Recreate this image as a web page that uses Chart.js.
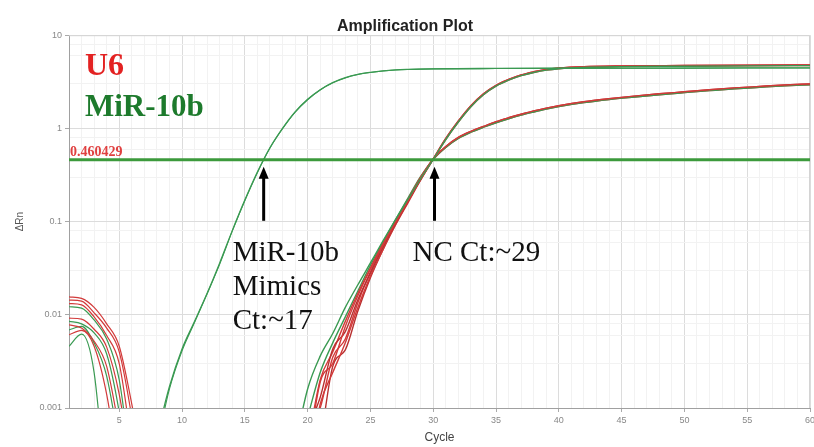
<!DOCTYPE html>
<html>
<head>
<meta charset="utf-8">
<title>Amplification Plot</title>
<script src="https://cdn.jsdelivr.net/npm/chart.js@4.4.0/dist/chart.umd.min.js"></script>
<style>
  html, body { margin: 0; padding: 0; background: #fff; }
  #wrap { width: 814px; height: 447px; }
</style>
</head>
<body>
<div id="wrap"><canvas id="ampChart" width="814" height="447"></canvas></div>
<script>
// threshold and Ct marks
const thresholdValue = 0.460429;
const mimicsCt = 16.5;
const ncCt = 30.1;

// baseline noise at the start of the run, [cycle, dRn]
const early1 = [[1, 0.0156], [2, 0.0150], [3, 0.0120], [4, 0.0080], [5, 0.0046], [6, 0.0011], [7, 0.0002]];
const early2 = [[1, 0.0144], [2, 0.0140], [3, 0.0105], [4, 0.0072], [5, 0.0040], [6, 0.0008], [7, 0.0001]];
const early3 = [[1, 0.0132], [2, 0.0128], [3, 0.0095], [4, 0.0060], [5, 0.0030], [6, 0.0004]];
const early4 = [[1, 0.0122], [2, 0.0118], [3, 0.0088], [4, 0.0055], [5, 0.0020], [6, 0.0002]];
const early5 = [[1, 0.0092], [2, 0.0090], [3, 0.0070], [4, 0.0045], [5, 0.0014], [6, 0.0002]];
const early6 = [[1, 0.0085], [2, 0.0080], [3, 0.0064], [4, 0.0038], [5, 0.0009], [6, 0.0001]];
const early7 = [[1, 0.0078], [2, 0.0072], [3, 0.0052], [4, 0.0028], [5, 0.0006]];
const early8 = [[1, 0.0069], [2, 0.0075], [3, 0.0050], [4, 0.0022], [5, 0.0004]];
const early9 = [[1, 0.0061], [2, 0.0068], [3, 0.0046], [4, 0.0014], [5, 0.0002]];
const early10 = [[1, 0.0046], [2, 0.0062], [3, 0.0024], [4, 0.0001]];

// miR-10b mimics wells
const mimicsA = [[8, 0.0005], [9, 0.0017], [10, 0.0043], [11, 0.0085], [12, 0.017], [13, 0.036], [14, 0.08],
  [15, 0.17], [16, 0.34], [17, 0.62], [18, 1.0], [19, 1.5], [20, 2.05], [21, 2.6], [22, 3.1], [23, 3.5],
  [24, 3.8], [25, 4.0], [26, 4.15], [27, 4.25], [28, 4.3], [30, 4.36], [35, 4.4], [40, 4.42], [50, 4.44], [60, 4.46]];
const mimicsB = [[8, 0.0004], [9, 0.0016], [10, 0.0041], [11, 0.0083], [12, 0.0168], [13, 0.035], [14, 0.079],
  [15, 0.168], [16, 0.335], [17, 0.615], [18, 0.99], [19, 1.49], [20, 2.03], [21, 2.58], [22, 3.08], [23, 3.48],
  [24, 3.78], [25, 3.98], [26, 4.13], [27, 4.23], [28, 4.29], [30, 4.35], [35, 4.39], [40, 4.41], [50, 4.43], [60, 4.45]];

// NC wells, exponential rise below threshold
const ncRise1 = [[19, 0.0004], [20, 0.0016], [21, 0.0036], [22, 0.0063], [23, 0.012], [24, 0.021], [25, 0.036], [26, 0.062], [27, 0.105], [28, 0.175], [29, 0.29]];
const ncRise2 = [[20, 0.0003], [21, 0.0019], [22, 0.0030], [23, 0.0075], [24, 0.016], [25, 0.031], [26, 0.056], [27, 0.098], [28, 0.168], [29, 0.285]];
const ncRise3 = [[20, 0.0006], [21, 0.0013], [22, 0.0043], [23, 0.0066], [24, 0.0145], [25, 0.028], [26, 0.053], [27, 0.095], [28, 0.165], [29, 0.28]];
const ncRise4 = [[20, 0.0002], [21, 0.0011], [22, 0.0024], [23, 0.0050], [24, 0.012], [25, 0.026], [26, 0.05], [27, 0.092], [28, 0.16], [29, 0.28]];
const ncRise5 = [[20, 0.0004], [21, 0.0020], [22, 0.0040], [23, 0.0085], [24, 0.017], [25, 0.032], [26, 0.058], [27, 0.10], [28, 0.175], [29, 0.30]];
const ncRise6 = [[20, 0.0008], [21, 0.0024], [22, 0.0050], [23, 0.0095], [24, 0.018], [25, 0.034], [26, 0.06], [27, 0.105], [28, 0.18], [29, 0.305]];
const ncRise7 = [[21, 0.0004], [22, 0.0028], [23, 0.0042], [24, 0.011], [25, 0.025], [26, 0.05], [27, 0.093], [28, 0.165], [29, 0.29]];
const ncRise8 = [[20, 0.0005], [21, 0.0010], [22, 0.0035], [23, 0.0055], [24, 0.0135], [25, 0.029], [26, 0.055], [27, 0.098], [28, 0.17], [29, 0.295]];

// NC plateaus above threshold
const ncUpperTail = [[30, 0.47], [31, 0.78], [32, 1.2], [33, 1.75], [34, 2.35], [35, 2.9], [36, 3.35], [37, 3.75],
  [38, 4.05], [39, 4.3], [40, 4.45], [42, 4.6], [45, 4.68], [50, 4.73], [55, 4.77], [60, 4.8]];
const ncUpperTailB = [[30, 0.465], [31, 0.76], [32, 1.17], [33, 1.71], [34, 2.3], [35, 2.84], [36, 3.29], [37, 3.68],
  [38, 3.98], [39, 4.22], [40, 4.37], [42, 4.52], [45, 4.6], [50, 4.65], [55, 4.69], [60, 4.72]];
const ncLowerTail = [[30, 0.47], [31, 0.64], [32, 0.8], [33, 0.93], [34, 1.05], [35, 1.18], [36, 1.3], [37, 1.42],
  [38, 1.54], [39, 1.65], [40, 1.75], [42, 1.93], [44, 2.08], [46, 2.22], [48, 2.35], [50, 2.47], [52, 2.6],
  [54, 2.72], [56, 2.82], [58, 2.92], [60, 3.0]];
const ncLowerTailB = [[30, 0.465], [31, 0.625], [32, 0.78], [33, 0.91], [34, 1.03], [35, 1.15], [36, 1.27], [37, 1.39],
  [38, 1.5], [39, 1.61], [40, 1.71], [42, 1.89], [44, 2.04], [46, 2.17], [48, 2.3], [50, 2.42], [52, 2.54],
  [54, 2.66], [56, 2.76], [58, 2.86], [60, 2.94]];

// axis ticks
const yDecades = [0.001, 0.01, 0.1, 1, 10];
const xLabelStep = 5;

const RED = '#d23a3a';
const GREEN = '#3a9a52';
const SERIF = '"Liberation Serif", "Times New Roman", serif';

function toPoints(pairs) {
    return pairs.map(function (p) { return { x: p[0], y: p[1] }; });
}

function well(pairs, color, width) {
    return {
        data: toPoints(pairs),
        borderColor: color,
        borderWidth: width || 1.4,
        pointRadius: 0,
        fill: false,
        cubicInterpolationMode: 'monotone'
    };
}

const isDecade = function (v) {
    const l = Math.log10(v);
    return Math.abs(l - Math.round(l)) < 1e-6;
};

const datasets = [
    {
        data: toPoints([[1, thresholdValue], [60, thresholdValue]]),
        borderColor: '#3c9a3c',
        borderWidth: 3,
        pointRadius: 0
    },
    well(mimicsA, GREEN, 1.3),
    well(mimicsB, GREEN, 1.1),
    well(ncRise1.concat(ncUpperTailB), GREEN),
    well(ncRise2.concat(ncUpperTail), RED),
    well(ncRise3.concat(ncUpperTail), '#b83030'),
    well(ncRise4.concat(ncUpperTailB), RED),
    well(ncRise5.concat(ncLowerTail), RED),
    well(ncRise6.concat(ncLowerTailB), GREEN),
    well(ncRise7.concat(ncLowerTail), '#b83030'),
    well(ncRise8.concat(ncLowerTailB), RED),
    well(early1, RED, 1.2),
    well(early2, RED, 1.2),
    well(early3, RED, 1.2),
    well(early4, GREEN, 1.2),
    well(early5, RED, 1.2),
    well(early6, GREEN, 1.2),
    well(early7, RED, 1.2),
    well(early8, GREEN, 1.2),
    well(early9, RED, 1.2),
    well(early10, GREEN, 1.2)
];

function drawArrow(ctx, x, yTip, yTail) {
    ctx.strokeStyle = '#000';
    ctx.fillStyle = '#000';
    ctx.lineWidth = 3;
    ctx.beginPath();
    ctx.moveTo(x, yTail);
    ctx.lineTo(x, yTip + 9);
    ctx.stroke();
    ctx.beginPath();
    ctx.moveTo(x, yTip);
    ctx.lineTo(x - 5, yTip + 12);
    ctx.lineTo(x + 5, yTip + 12);
    ctx.closePath();
    ctx.fill();
}

const plotFrame = {
    id: 'plotFrame',
    beforeDatasetsDraw(chart) {
        const { ctx, chartArea } = chart;
        ctx.save();
        ctx.strokeStyle = '#d4d4d4';
        ctx.lineWidth = 1;
        ctx.beginPath();
        ctx.moveTo(chartArea.left, chartArea.top + 0.5);
        ctx.lineTo(chartArea.right - 0.5, chartArea.top + 0.5);
        ctx.lineTo(chartArea.right - 0.5, chartArea.bottom);
        ctx.stroke();
        ctx.restore();
    }
};

const annotations = {
    id: 'annotations',
    afterDatasetsDraw(chart) {
        const { ctx, chartArea } = chart;
        const x = chart.scales.x;
        const y = chart.scales.y;
        const thrY = y.getPixelForValue(thresholdValue);
        ctx.save();
        ctx.textAlign = 'left';
        ctx.textBaseline = 'alphabetic';

        ctx.font = 'bold 32px ' + SERIF;
        ctx.fillStyle = '#e32222';
        ctx.fillText('U6', chartArea.left + 16, chartArea.top + 40);
        ctx.fillStyle = '#1d7a2c';
        ctx.font = 'bold 31px ' + SERIF;
        ctx.fillText('MiR-10b', chartArea.left + 16, chartArea.top + 81);

        ctx.font = 'bold 14px ' + SERIF;
        ctx.fillStyle = '#e04040';
        ctx.fillText('0.460429', chartArea.left + 1, thrY - 4);

        const xm = x.getPixelForValue(mimicsCt);
        const xn = x.getPixelForValue(ncCt);
        drawArrow(ctx, xm, thrY + 7, thrY + 61);
        drawArrow(ctx, xn, thrY + 7, thrY + 61);

        ctx.fillStyle = '#111';
        ctx.font = '29px ' + SERIF;
        ctx.fillText('MiR-10b', xm - 31, thrY + 101);
        ctx.fillText('Mimics', xm - 31, thrY + 135);
        ctx.fillText('Ct:~17', xm - 31, thrY + 169);
        ctx.fillText('NC Ct:~29', xn - 22, thrY + 101);
        ctx.restore();
    }
};

const ctx = document.getElementById('ampChart').getContext('2d');
const ampChart = new Chart(ctx, {
    type: 'line',
    data: { datasets: datasets },
    plugins: [plotFrame, annotations],
    options: {
        responsive: false,
        animation: false,
        layout: { padding: { left: 0, right: 4, top: 0, bottom: 0 } },
        plugins: {
            legend: { display: false },
            tooltip: { enabled: false },
            title: {
                display: true,
                text: 'Amplification Plot',
                color: '#222',
                font: { family: '"Liberation Sans", Arial, sans-serif', size: 16, weight: 'bold' },
                padding: { top: 17, bottom: -1 }
            }
        },
        scales: {
            x: {
                type: 'linear',
                min: 1,
                max: 60,
                afterFit: function (scale) {
                    scale.height = 39;
                    // let the last label run off the edge, like the original
                    scale.paddingRight = 0;
                },
                ticks: {
                    stepSize: 1,
                    autoSkip: false,
                    maxRotation: 0,
                    color: '#888',
                    font: { size: 9 },
                    callback: function (v) { return v % xLabelStep === 0 ? String(v) : ''; }
                },
                grid: {
                    color: function (c) { return c.tick && c.tick.value % xLabelStep === 0 ? '#dcdcdc' : '#f2f2f2'; },
                    tickColor: function (c) { return c.tick && c.tick.value % xLabelStep === 0 ? '#aaa' : 'rgba(0,0,0,0)'; },
                    tickLength: 4
                },
                border: { color: '#a0a0a0' },
                title: {
                    display: true,
                    text: 'Cycle',
                    color: '#444',
                    font: { family: '"Liberation Sans", Arial, sans-serif', size: 12 },
                    padding: { top: 0, bottom: 2 }
                }
            },
            y: {
                type: 'logarithmic',
                min: 0.001,
                max: 10,
                afterFit: function (scale) { scale.width = 69; },
                afterBuildTicks: function (scale) {
                    const ticks = [];
                    yDecades.forEach(function (d) {
                        if (d === 10) { ticks.push({ value: d, major: true }); return; }
                        for (let m = 1; m <= 9; m++) ticks.push({ value: d * m, major: m === 1 });
                    });
                    scale.ticks = ticks;
                },
                ticks: {
                    color: '#888',
                    font: { size: 9 },
                    callback: function (v) { return isDecade(v) ? String(v) : ''; }
                },
                grid: {
                    color: function (c) { return c.tick && isDecade(c.tick.value) ? '#dcdcdc' : '#f2f2f2'; },
                    tickColor: function (c) { return c.tick && isDecade(c.tick.value) ? '#aaa' : 'rgba(0,0,0,0)'; },
                    tickLength: 4
                },
                border: { color: '#a0a0a0' },
                title: {
                    display: true,
                    text: 'ΔRn',
                    color: '#555',
                    font: { family: '"Liberation Sans", Arial, sans-serif', size: 10 },
                    padding: { top: 14, bottom: 0 }
                }
            }
        }
    }
});
</script>
</body>
</html>
